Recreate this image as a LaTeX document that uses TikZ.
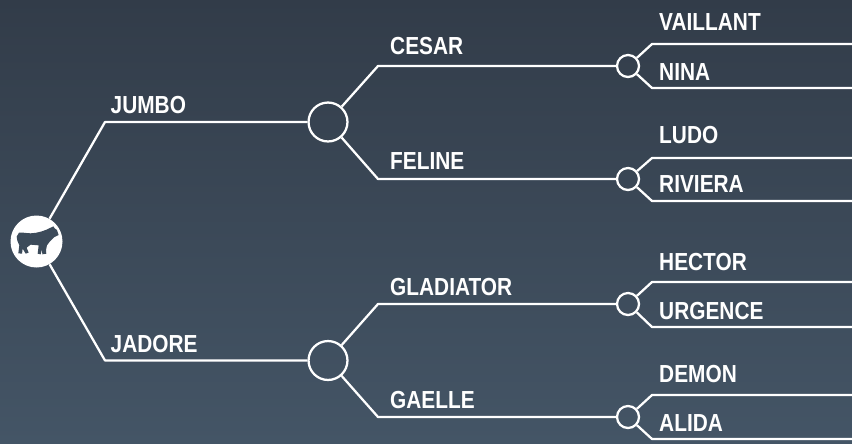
\documentclass[tikz,border=0pt]{standalone}
\usepackage{fontspec}
\setmainfont{Liberation Sans}
\begin{document}
\begin{tikzpicture}[x=0.75pt,y=-0.75pt,
  branch/.style={draw=white,line width=1.7pt,line join=round},
  hub/.style={circle,draw=white,line width=1.7pt,fill=none,inner sep=0pt,minimum size=#1},
  lbl/.style={text=white,font=\bfseries\fontsize{18.5}{20}\selectfont,anchor=base west,inner sep=0pt,xscale=0.845,transform shape}]
\useasboundingbox (0,0) rectangle (852,443);
\shade[top color={rgb,255:red,50;green,60;blue,73},bottom color={rgb,255:red,68;green,85;blue,102}] (0,0) rectangle (852,443);
\node[circle,fill=white,inner sep=0pt,minimum size=39pt] (root) at (36.5,241.5) {};
\begin{scope}[shift={(10,220)},scale=0.3333]
\fill[fill={rgb,255:red,60;green,75;blue,90}] (27,38) .. controls (40,36) and (50,41) .. (62,40) .. controls (85,39) and (105,32) .. (122,23) -- (130,19) -- (134,25) -- (141,30) -- (146,45) -- (132,52) -- (120,64) -- (111,76) -- (108,90) -- (109,101) -- (97,103) -- (96,88) -- (92,103) -- (83,101) -- (86,76) -- (62,74) -- (50,83) -- (56,98) -- (47,101) -- (38,86) -- (36,101) -- (25,100) -- (28,76) -- (22,62) -- (20,50) -- cycle;
\end{scope}
\node[hub=29.2pt] (h1) at (328,122) {};
\node[hub=29.2pt] (h2) at (328,360.5) {};
\node[hub=16.5pt] (a) at (628,66) {};
\node[hub=16.5pt] (b) at (628,179) {};
\node[hub=16.5pt] (c) at (628,304) {};
\node[hub=16.5pt] (d) at (628,417) {};
\coordinate (j1) at (105,122);
\coordinate (j2) at (105,360.5);
\coordinate (k1) at (378,66);
\coordinate (k2) at (378,179);
\coordinate (k3) at (378,304);
\coordinate (k4) at (378,417);
\coordinate (m1) at (652,44);
\coordinate (m2) at (652,88);
\coordinate (m3) at (652,158);
\coordinate (m4) at (652,201);
\coordinate (m5) at (652,282);
\coordinate (m6) at (652,327);
\coordinate (m7) at (652,395);
\coordinate (m8) at (652,439);
\coordinate (e1) at (852,44);
\coordinate (e2) at (852,88);
\coordinate (e3) at (852,158);
\coordinate (e4) at (852,201);
\coordinate (e5) at (852,282);
\coordinate (e6) at (852,327);
\coordinate (e7) at (852,395);
\coordinate (e8) at (852,439);
\draw[branch] (root) -- (j1) -- (h1);
\draw[branch] (root) -- (j2) -- (h2);
\draw[branch] (h1) -- (k1) -- (a);
\draw[branch] (h1) -- (k2) -- (b);
\draw[branch] (h2) -- (k3) -- (c);
\draw[branch] (h2) -- (k4) -- (d);
\draw[branch] (a) -- (m1) -- (e1);
\draw[branch] (a) -- (m2) -- (e2);
\draw[branch] (b) -- (m3) -- (e3);
\draw[branch] (b) -- (m4) -- (e4);
\draw[branch] (c) -- (m5) -- (e5);
\draw[branch] (c) -- (m6) -- (e6);
\draw[branch] (d) -- (m7) -- (e7);
\draw[branch] (d) -- (m8) -- (e8);
\node[lbl] (jumbo) at (110.5,113) {JUMBO};
\node[lbl] (jadore) at (110.5,352) {JADORE};
\node[lbl] (cesar) at (390,54) {CESAR};
\node[lbl] (feline) at (390,169) {FELINE};
\node[lbl] (gladiator) at (390,295.5) {GLADIATOR};
\node[lbl] (gaelle) at (390,408) {GAELLE};
\node[lbl] (vaillant) at (659,30) {VAILLANT};
\node[lbl] (nina) at (659,80) {NINA};
\node[lbl] (ludo) at (659,143) {LUDO};
\node[lbl] (riviera) at (659,192) {RIVIERA};
\node[lbl] (hector) at (659,270) {HECTOR};
\node[lbl] (urgence) at (659,319) {URGENCE};
\node[lbl] (demon) at (659,382) {DEMON};
\node[lbl] (alida) at (659,431) {ALIDA};
\end{tikzpicture}
\end{document}
